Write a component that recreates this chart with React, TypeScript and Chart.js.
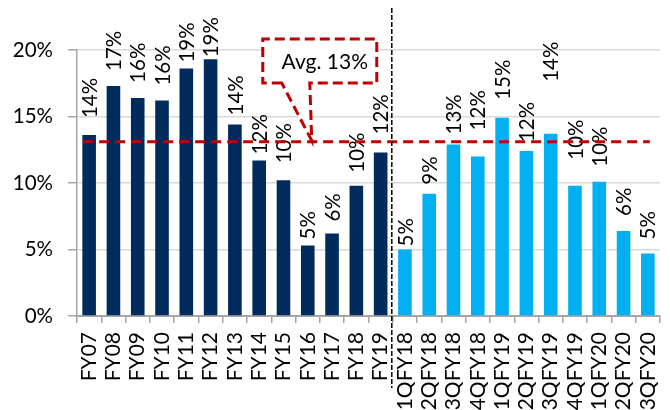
import React, { useEffect, useRef } from "react";
import { Chart, registerables } from "chart.js";

Chart.register(...registerables);

// ---- data ----
const fyLabels = ["FY07", "FY08", "FY09", "FY10", "FY11", "FY12", "FY13", "FY14", "FY15", "FY16", "FY17", "FY18", "FY19"];
const fyValues = [13.6, 17.3, 16.4, 16.2, 18.6, 19.3, 14.4, 11.7, 10.2, 5.3, 6.2, 9.8, 12.3];
const qLabels = ["1QFY18", "2QFY18", "3QFY18", "4QFY18", "1QFY19", "2QFY19", "3QFY19", "4QFY19", "1QFY20", "2QFY20", "3QFY20"];
const qValues = [5.0, 9.2, 12.9, 12.0, 14.9, 12.4, 13.7, 9.8, 10.1, 6.4, 4.7];
const avgValue = 13.1;
const avgText = "Avg. 13%";
const yTicks = [0, 5, 10, 15, 20];

// ---- styles ----
const FY_COLOR = "#002B5C";
const Q_COLOR = "#00B0F0";
const RED = "#C00000";
const FONT = "Lato, 'Open Sans', sans-serif";
// extra gap (px) between bar top and its rotated data label, per bar
const labelGap = [17, 15, 15, 15, 6, 2, 9, 6, 17, 6, 12, 13, 18, 3, 9, 10, 26, 18, 9, 52, 26, 15, 15, 14];

const overlayPlugin = {
  id: "overlay",
  afterDatasetsDraw(chart: any) {
    const { ctx, chartArea } = chart;
    const xs = chart.scales.x;
    const ys = chart.scales.y;
    const meta = chart.getDatasetMeta(0);
    const data = chart.data.datasets[0].data as number[];

    // data labels
    ctx.save();
    ctx.font = `20.5px ${FONT}`;
    ctx.fillStyle = "#000";
    ctx.textAlign = "left";
    ctx.textBaseline = "middle";
    meta.data.forEach((el: any, i: number) => {
      const txt = Math.round(data[i]) + "%";
      ctx.save();
      ctx.translate(el.x + 1, el.y - labelGap[i]);
      ctx.rotate(-Math.PI / 2);
      ctx.fillText(txt, 0, 0);
      ctx.restore();
    });
    ctx.restore();

    // average line
    const ay = ys.getPixelForValue(avgValue);
    const n = data.length;
    ctx.save();
    ctx.strokeStyle = RED;
    ctx.lineWidth = 3;
    ctx.setLineDash([10, 6]);
    ctx.beginPath();
    ctx.moveTo(xs.getPixelForValue(0) - 6, ay);
    ctx.lineTo(xs.getPixelForValue(n - 1) + 2, ay);
    ctx.stroke();
    ctx.restore();

    // callout
    const tipX = xs.getPixelForValue(9) + 4;
    const tipY = ay - 1;
    const y20 = ys.getPixelForValue(20);
    const left = tipX - 49;
    const right = tipX + 65;
    const top = y20 - 11;
    const bottom = y20 + 33;
    const pl = tipX - 30;
    const pr = tipX - 2;
    ctx.save();
    ctx.beginPath();
    ctx.moveTo(pl, bottom);
    ctx.lineTo(left, bottom);
    ctx.lineTo(left, top);
    ctx.lineTo(right, top);
    ctx.lineTo(right, bottom);
    ctx.lineTo(pr, bottom);
    ctx.lineTo(tipX, tipY);
    ctx.closePath();
    ctx.fillStyle = "#fff";
    ctx.fill();
    ctx.strokeStyle = RED;
    ctx.lineWidth = 3;
    ctx.setLineDash([10, 5]);
    ctx.stroke();
    ctx.setLineDash([]);
    ctx.fillStyle = "#000";
    ctx.font = `21px ${FONT}`;
    ctx.textAlign = "center";
    ctx.textBaseline = "middle";
    ctx.fillText(avgText, (left + right) / 2 + 5, (top + bottom) / 2 + 1);
    ctx.restore();

    // separator between annual and quarterly
    const fyCount = fyLabels.length;
    const sx = (xs.getPixelForValue(fyCount - 1) + xs.getPixelForValue(fyCount)) / 2 - 1;
    ctx.save();
    ctx.strokeStyle = "#000";
    ctx.lineWidth = 1.5;
    ctx.setLineDash([5, 2]);
    ctx.beginPath();
    ctx.moveTo(sx, chartArea.top - 42);
    ctx.lineTo(sx, chartArea.bottom + 72);
    ctx.stroke();
    ctx.restore();
  },
};

export default function App() {
  const ref = useRef<HTMLCanvasElement>(null);

  useEffect(() => {
    if (!ref.current) return;
    const labels = [...fyLabels, ...qLabels];
    const values = [...fyValues, ...qValues];
    const colors = [...fyLabels.map(() => FY_COLOR), ...qLabels.map(() => Q_COLOR)];
    const chart = new Chart(ref.current, {
      type: "bar",
      data: {
        labels,
        datasets: [
          {
            data: values,
            backgroundColor: colors,
            borderWidth: 0,
            barPercentage: 0.56,
            categoryPercentage: 1,
          },
        ],
      },
      options: {
        animation: false,
        responsive: false,
        devicePixelRatio: 1,
        layout: { padding: { top: 50, right: 10, left: 0, bottom: 0 } },
        plugins: { legend: { display: false }, tooltip: { enabled: false } },
        scales: {
          x: {
            grid: {
              drawOnChartArea: false,
              offset: true,
              tickLength: 7,
              color: "#A6A6A6",
              lineWidth: 1.5,
            },
            border: { color: "#A6A6A6", width: 2 },
            ticks: {
              minRotation: 90,
              maxRotation: 90,
              autoSkip: false,
              padding: 9,
              color: "#000",
              font: { family: FONT, size: 21 },
            },
            afterFit: (s: any) => {
              s.height = 94;
              s.paddingLeft = 0;
              s.paddingRight = 0;
            },
          },
          y: {
            min: 0,
            max: 20,
            afterBuildTicks: (s: any) => {
              s.ticks = yTicks.map((v) => ({ value: v }));
            },
            ticks: {
              padding: 15,
              color: "#000",
              font: { family: FONT, size: 20.5 },
              callback: (v: any) => v + "%",
            },
            grid: {
              color: "#D9D9D9",
              lineWidth: 1.5,
              tickLength: 9,
              tickColor: "#A6A6A6",
            },
            border: { color: "#A6A6A6", width: 1.5 },
            afterFit: (s: any) => {
              s.width = 77;
              s.paddingTop = 0;
              s.paddingBottom = 0;
            },
          },
        },
      },
      plugins: [overlayPlugin],
    });
    return () => chart.destroy();
  }, []);

  return (
    <div style={{ position: "fixed", left: 0, top: 0, width: 670, height: 410, overflow: "hidden", background: "#fff" }}>
      <canvas ref={ref} width={670} height={410} style={{ display: "block" }} />
    </div>
  );
}
